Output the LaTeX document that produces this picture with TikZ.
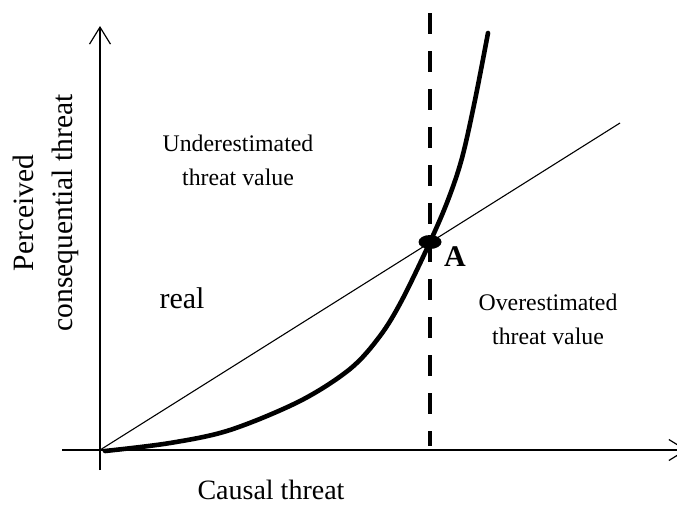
\documentclass[tikz,border=0pt]{standalone}
\usepackage{fontspec}
\setmainfont{Liberation Serif}
\usetikzlibrary{arrows.meta, shapes.geometric}

\begin{document}
\begin{tikzpicture}[
  x=1pt, y=-1pt,
  >={Straight Barb[length=17pt, width=21pt]},
  axis/.style={line width=1.2pt},
  thick curve/.style={line width=4.6pt, line cap=round},
  guide/.style={line width=4.8pt, dash pattern=on 21pt off 17pt},
  small/.style={align=center, font=\fontsize{23.8}{34}\selectfont},
  big/.style={align=center, font=\fontsize{29.5}{39}\selectfont},
]
\useasboundingbox (0,0) rectangle (677,504);
% axes
\coordinate (o)    at (100,450);
\coordinate (xl)   at (62,450);
\coordinate (xr)   at (687,450);
\coordinate (yb)   at (100,470);
\coordinate (yt)   at (100,26);
\draw[axis, ->] (xl) -- (xr);
\draw[axis, ->] (yb) -- (yt);
% reference line and threshold
\coordinate (ref)  at (620,123);
\draw[line width=1.1pt] (o) -- (ref);
\coordinate (dtop) at (430,13);
\coordinate (dbot) at (430,446);
\draw[guide] (dtop) -- (dbot);
% perceived curve
\draw[thick curve] plot[smooth, tension=0.55] coordinates {
  (105,451) (170,443) (230,430) (300,401) (350,369) (380,336)
  (402,300) (430,242) (448,200) (462,158) (475,100) (488,33)};
\node[fill, ellipse, inner sep=0pt, minimum width=23pt, minimum height=14pt]
  (a) at (430,242) {};
\node[font=\fontsize{30}{30}\selectfont\bfseries, anchor=base] (alab) at (455,266) {A};
% labels
\node[small] (under) at (238,160) {Underestimated\\threat value};
\node[small] (over)  at (548,319) {Overestimated\\threat value};
\node[big, anchor=base, font=\fontsize{30}{39}\selectfont] (real) at (182,308) {real};
\node[big, anchor=base, font=\fontsize{28}{39}\selectfont] (causal) at (271,499) {Causal threat};
\node[big, rotate=90] (perc) at (46,213) {Perceived\\consequential threat};
\end{tikzpicture}
\end{document}
